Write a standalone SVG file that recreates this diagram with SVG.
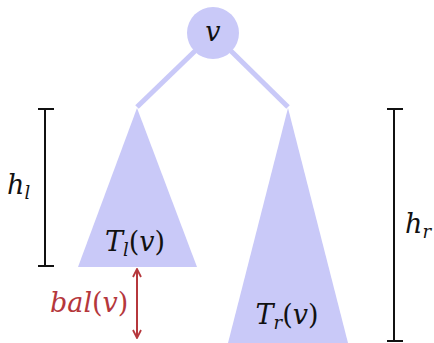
<svg xmlns="http://www.w3.org/2000/svg" width="434" height="343" viewBox="0 0 434 343">
<style>
.t{font-family:"DejaVu Serif",serif;font-style:italic;font-size:27px;fill:#111}
.up{font-style:normal}
.sub{font-size:18px}
.tree{fill:#c9c9f8}
.edge{stroke:#c9c9f8;stroke-width:5;fill:none}
.br{stroke:#111;stroke-width:2;fill:none}
.red{fill:#b5373c}
</style>
<defs>
<marker id="ah" viewBox="0 0 10 10" refX="9" refY="5" markerWidth="10" markerHeight="10" markerUnits="userSpaceOnUse" orient="auto-start-reverse">
<path d="M1,1 L9,5 L1,9" fill="none" stroke="#b5373c" stroke-width="1.8"/>
</marker>
</defs>
<g id="connectors">
<line class="edge" x1="195" y1="51" x2="137" y2="107"/>
<line class="edge" x1="231" y1="51" x2="288" y2="107"/>
<line x1="137" y1="269" x2="137" y2="338" stroke="#b5373c" stroke-width="2" marker-start="url(#ah)" marker-end="url(#ah)"/>
</g>
<g id="v">
<circle class="tree" cx="213" cy="33" r="26"/>
<text class="t" x="213" y="41" text-anchor="middle">v</text>
</g>
<g id="Tl">
<polygon class="tree" points="137,108 78,267 197,267"/>
<text class="t" x="135" y="251" text-anchor="middle">T<tspan class="sub" dy="5">l</tspan><tspan class="up" dy="-5">(</tspan>v<tspan class="up">)</tspan></text>
</g>
<g id="Tr">
<polygon class="tree" points="288,108 228,343 348,343"/>
<text class="t" x="287" y="324" text-anchor="middle">T<tspan class="sub" dy="5">r</tspan><tspan class="up" dy="-5">(</tspan>v<tspan class="up">)</tspan></text>
</g>
<g id="hl">
<path class="br" d="M45,109 V266 M38,109 H54 M38,266 H54"/>
<text class="t" x="7" y="194">h<tspan class="sub" dy="5">l</tspan></text>
</g>
<g id="hr">
<path class="br" d="M394,109 V341 M387,109 H403 M387,341 H403"/>
<text class="t" x="405" y="233">h<tspan class="sub" dy="5">r</tspan></text>
</g>
<g id="bal">
<text class="t red" x="50" y="312">bal<tspan class="up">(</tspan>v<tspan class="up">)</tspan></text>
</g>
</svg>
